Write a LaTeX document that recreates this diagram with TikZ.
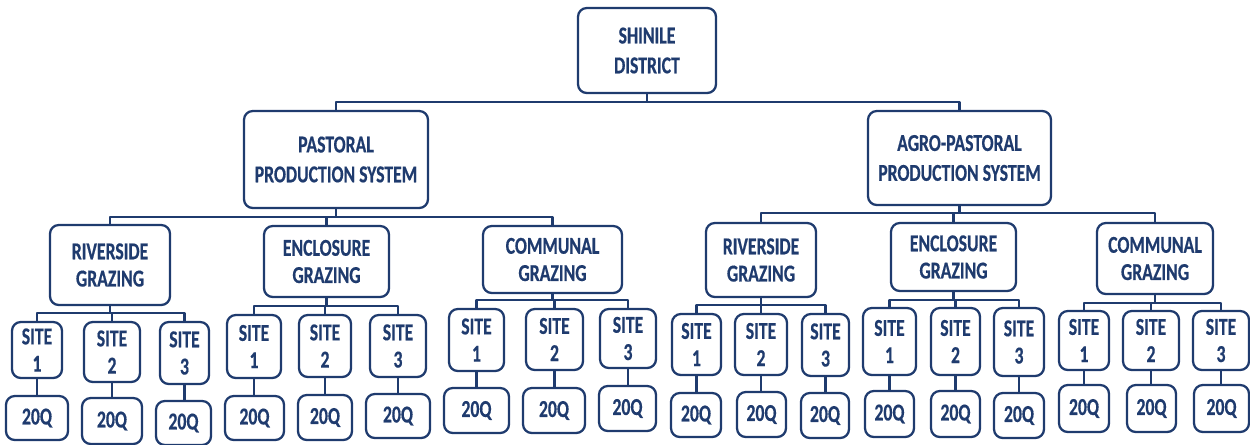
\documentclass[tikz,border=0pt]{standalone}
\usepackage{fontspec}
\setmainfont{Carlito}[FakeStretch=0.73,BoldFeatures={FakeBold=0.5}]
\definecolor{navy}{HTML}{1F3B6E}
\tikzset{
  unitbox/.style={draw=navy,line width=1.3pt,rounded corners=5pt,align=center,text=navy,inner sep=0pt,font=\bfseries\fontsize{13.8}{15.5}\selectfont},
  topbox/.style={unitbox,font=\bfseries\fontsize{13.8}{17}\selectfont},
  wh/.style 2 args={minimum width=#1*0.02cm,minimum height=#2*0.02cm},
  link/.style={draw=navy,line width=1.2pt}
}

\begin{document}
\begin{tikzpicture}[x=0.02cm,y=-0.02cm,line join=round]
\useasboundingbox (0,0) rectangle (1250,444);
% bus levels
\coordinate (busD) at (0,102);
\coordinate (busP) at (0,217);
\coordinate (busA) at (0,213);
\coordinate (busPR) at (0,313);
\coordinate (busPE) at (0,306);
\coordinate (busPC) at (0,300);
\coordinate (busAR) at (0,305);
\coordinate (busAE) at (0,300);
\coordinate (busAC) at (0,303);
% district and systems
\node[topbox,wh={138}{85}] (dist) at (647,50.5) {SHINILE\\DISTRICT};
\node[topbox,wh={184}{97}] (past) at (336,159.5) {PASTORAL\\PRODUCTION SYSTEM};
\node[topbox,wh={183}{94}] (agro) at (959.5,158) {AGRO-PASTORAL\\PRODUCTION SYSTEM};
% grazing types
\node[unitbox,wh={120}{80}] (rivP) at (110,265) {RIVERSIDE\\GRAZING};
\node[unitbox,wh={125}{71}] (encP) at (326.5,261.5) {ENCLOSURE\\GRAZING};
\node[unitbox,wh={139}{67}] (comP) at (552.5,259.5) {COMMUNAL\\GRAZING};
\node[unitbox,wh={110}{74}] (rivA) at (761,260) {RIVERSIDE\\GRAZING};
\node[unitbox,wh={125}{68}] (encA) at (953.5,257) {ENCLOSURE\\GRAZING};
\node[unitbox,wh={116}{71}] (comA) at (1155,258.5) {COMMUNAL\\GRAZING};
% sites, pastoral
\node[unitbox,wh={50}{56}] (rivP1) at (37,350) {SITE\\1};
\node[unitbox,wh={56}{60}] (rivP2) at (112,352) {SITE\\2};
\node[unitbox,wh={49}{62}] (rivP3) at (184.5,353) {SITE\\3};
\node[unitbox,wh={54}{63}] (encP1) at (254,346.5) {SITE\\1};
\node[unitbox,wh={52}{62}] (encP2) at (325,346) {SITE\\2};
\node[unitbox,wh={56}{62}] (encP3) at (398,346) {SITE\\3};
\node[unitbox,wh={55}{62}] (comP1) at (476.5,340) {SITE\\1};
\node[unitbox,wh={57}{61}] (comP2) at (554.5,339.5) {SITE\\2};
\node[unitbox,wh={56}{59}] (comP3) at (628,338.5) {SITE\\3};
% sites, agro-pastoral
\node[unitbox,wh={49}{61}] (rivA1) at (696.5,344.5) {SITE\\1};
\node[unitbox,wh={52}{61}] (rivA2) at (761,344.5) {SITE\\2};
\node[unitbox,wh={47}{62}] (rivA3) at (825.5,345) {SITE\\3};
\node[unitbox,wh={53}{67}] (encA1) at (889.5,341.5) {SITE\\1};
\node[unitbox,wh={49}{67}] (encA2) at (955.5,341.5) {SITE\\2};
\node[unitbox,wh={50}{68}] (encA3) at (1019,342) {SITE\\3};
\node[unitbox,wh={50}{59}] (comA1) at (1084,340.5) {SITE\\1};
\node[unitbox,wh={56}{59}] (comA2) at (1151,340.5) {SITE\\2};
\node[unitbox,wh={56}{59}] (comA3) at (1221,340.5) {SITE\\3};
% samples, pastoral
\node[unitbox,wh={62}{44}] (qrivP1) at (37,418) {20Q};
\node[unitbox,wh={60}{46}] (qrivP2) at (112,421) {20Q};
\node[unitbox,wh={55}{44}] (qrivP3) at (183.5,423) {20Q};
\node[unitbox,wh={59}{44}] (qencP1) at (254.5,418) {20Q};
\node[unitbox,wh={54}{45}] (qencP2) at (325,417.5) {20Q};
\node[unitbox,wh={64}{44}] (qencP3) at (398,416) {20Q};
\node[unitbox,wh={65}{45}] (qcomP1) at (476.5,410.5) {20Q};
\node[unitbox,wh={62}{45}] (qcomP2) at (554,410.5) {20Q};
\node[unitbox,wh={57}{45}] (qcomP3) at (627.5,408.5) {20Q};
% samples, agro-pastoral
\node[unitbox,wh={50}{44}] (qrivA1) at (696,415) {20Q};
\node[unitbox,wh={49}{45}] (qrivA2) at (761.5,414.5) {20Q};
\node[unitbox,wh={48}{45}] (qrivA3) at (825,415.5) {20Q};
\node[unitbox,wh={49}{46}] (qencA1) at (889.5,414) {20Q};
\node[unitbox,wh={49}{46}] (qencA2) at (955.5,414) {20Q};
\node[unitbox,wh={50}{45}] (qencA3) at (1019,415.5) {20Q};
\node[unitbox,wh={50}{47}] (qcomA1) at (1084,408.5) {20Q};
\node[unitbox,wh={49}{47}] (qcomA2) at (1151.5,408.5) {20Q};
\node[unitbox,wh={55}{47}] (qcomA3) at (1221.5,408.5) {20Q};
% connectors
\draw[link] (dist.south) |- (past.north |- busD) -- (past.north);
\draw[link] (dist.south) |- (agro.north |- busD) -- (agro.north);
\draw[link] (past.south) |- (rivP.north |- busP) -- (rivP.north);
\draw[link] (past.south) |- (encP.north |- busP) -- (encP.north);
\draw[link] (past.south) |- (comP.north |- busP) -- (comP.north);
\draw[link] (agro.south) |- (rivA.north |- busA) -- (rivA.north);
\draw[link] (agro.south) |- (encA.north |- busA) -- (encA.north);
\draw[link] (agro.south) |- (comA.north |- busA) -- (comA.north);
\draw[link] (rivP.south) |- (rivP1.north |- busPR) -- (rivP1.north);
\draw[link] (rivP.south) |- (rivP2.north |- busPR) -- (rivP2.north);
\draw[link] (rivP.south) |- (rivP3.north |- busPR) -- (rivP3.north);
\draw[link] (encP.south) |- (encP1.north |- busPE) -- (encP1.north);
\draw[link] (encP.south) |- (encP2.north |- busPE) -- (encP2.north);
\draw[link] (encP.south) |- (encP3.north |- busPE) -- (encP3.north);
\draw[link] (comP.south) |- (comP1.north |- busPC) -- (comP1.north);
\draw[link] (comP.south) |- (comP2.north |- busPC) -- (comP2.north);
\draw[link] (comP.south) |- (comP3.north |- busPC) -- (comP3.north);
\draw[link] (rivA.south) |- (rivA1.north |- busAR) -- (rivA1.north);
\draw[link] (rivA.south) |- (rivA2.north |- busAR) -- (rivA2.north);
\draw[link] (rivA.south) |- (rivA3.north |- busAR) -- (rivA3.north);
\draw[link] (encA.south) |- (encA1.north |- busAE) -- (encA1.north);
\draw[link] (encA.south) |- (encA2.north |- busAE) -- (encA2.north);
\draw[link] (encA.south) |- (encA3.north |- busAE) -- (encA3.north);
\draw[link] (comA.south) |- (comA1.north |- busAC) -- (comA1.north);
\draw[link] (comA.south) |- (comA2.north |- busAC) -- (comA2.north);
\draw[link] (comA.south) |- (comA3.north |- busAC) -- (comA3.north);
\draw[link] (rivP1.south) -- (rivP1.south |- qrivP1.north);
\draw[link] (rivP2.south) -- (rivP2.south |- qrivP2.north);
\draw[link] (rivP3.south) -- (rivP3.south |- qrivP3.north);
\draw[link] (encP1.south) -- (encP1.south |- qencP1.north);
\draw[link] (encP2.south) -- (encP2.south |- qencP2.north);
\draw[link] (encP3.south) -- (encP3.south |- qencP3.north);
\draw[link] (comP1.south) -- (comP1.south |- qcomP1.north);
\draw[link] (comP2.south) -- (comP2.south |- qcomP2.north);
\draw[link] (comP3.south) -- (comP3.south |- qcomP3.north);
\draw[link] (rivA1.south) -- (rivA1.south |- qrivA1.north);
\draw[link] (rivA2.south) -- (rivA2.south |- qrivA2.north);
\draw[link] (rivA3.south) -- (rivA3.south |- qrivA3.north);
\draw[link] (encA1.south) -- (encA1.south |- qencA1.north);
\draw[link] (encA2.south) -- (encA2.south |- qencA2.north);
\draw[link] (encA3.south) -- (encA3.south |- qencA3.north);
\draw[link] (comA1.south) -- (comA1.south |- qcomA1.north);
\draw[link] (comA2.south) -- (comA2.south |- qcomA2.north);
\draw[link] (comA3.south) -- (comA3.south |- qcomA3.north);
\end{tikzpicture}
\end{document}
